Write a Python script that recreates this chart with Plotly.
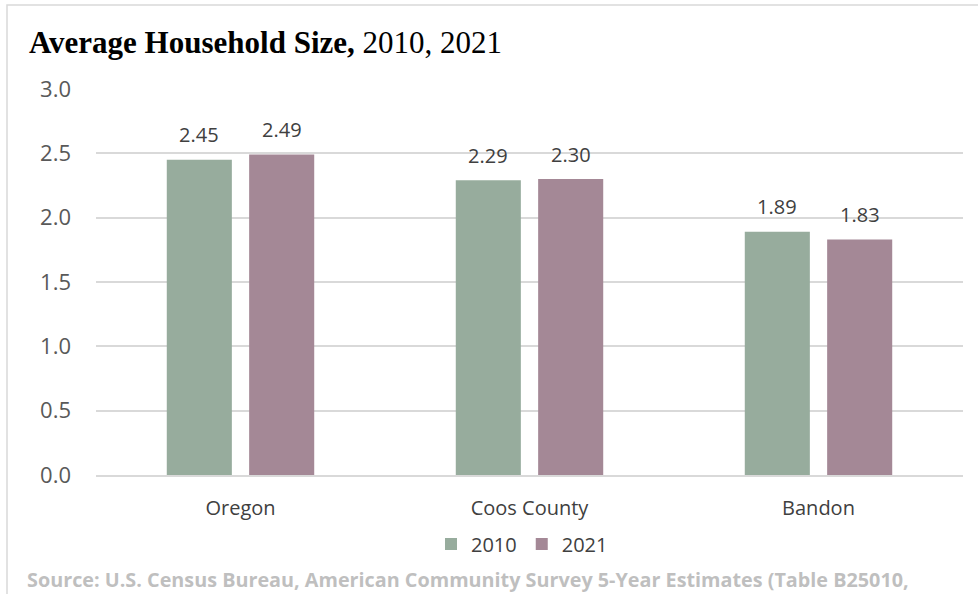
import plotly.graph_objects as go

categories = ["Oregon", "Coos County", "Bandon"]
values_2010 = [2.45, 2.29, 1.89]
values_2021 = [2.49, 2.30, 1.83]
series_names = ["2010", "2021"]
y_ticks = [0.0, 0.5, 1.0, 1.5, 2.0, 2.5, 3.0]
y_ticktext = ["0.0", "0.5", "1.0", "1.5", "2.0", "2.5", "3.0"]

W, H = 978, 594
L, R, T, B = 96, 15, 89, 119
pw, ph = W - L - R, H - T - B
BARGAP, GROUPGAP = 0.43, 0.21
colors = ["#97AC9D", "#A48896"]

def px_x(x):
    return (x - L) / pw

def px_y(y):
    return 1 - (y - T) / ph

fig = go.Figure()
for name, vals, col in zip(series_names, [values_2010, values_2021], colors):
    fig.add_trace(go.Bar(x=categories, y=vals, name=name, marker=dict(color=col, line=dict(width=0))))

# data labels above bars, positioned at each bar's slot centre
cat_w = pw / len(categories)
slot = cat_w * (1 - BARGAP) / 2
for i, vals in enumerate([values_2010, values_2021]):
    for c, v in zip(categories, vals):
        fig.add_annotation(
            x=c, y=v, xref="x", yref="y", showarrow=False,
            text=f"{v:.2f}", xshift=(i - 0.5) * slot, yshift=25,
            yanchor="middle", xanchor="center",
            font=dict(family="Open Sans", size=20, color="#404040"),
        )

fig.update_layout(
    width=W, height=H,
    margin=dict(l=L, r=R, t=T, b=B),
    paper_bgcolor="white", plot_bgcolor="white",
    barmode="group", bargap=BARGAP, bargroupgap=GROUPGAP,
    showlegend=True,
    legend=dict(orientation="h", x=px_x(522), xanchor="center", y=px_y(544), yanchor="middle",
                font=dict(family="Open Sans", size=20, color="#404040"),
                itemwidth=30, traceorder="normal"),
    xaxis=dict(showgrid=False, showline=True, linecolor="#D9D9D9", linewidth=1.5,
               ticks="", tickfont=dict(family="Open Sans", size=20, color="#404040"),
               ticklabelstandoff=14),
    yaxis=dict(range=[0, 3], tickvals=y_ticks, ticktext=y_ticktext,
               showgrid=True, gridcolor="#D9D9D9", gridwidth=1.5, zeroline=False,
               showline=False, ticks="",
               tickfont=dict(family="Open Sans", size=22, color="#595959"),
               ticklabelstandoff=24),
    font=dict(family="Open Sans"),
)

fig.add_annotation(
    xref="paper", yref="paper", x=px_x(27), y=px_y(42),
    xanchor="left", yanchor="middle", showarrow=False,
    text="<b>Average Household Size,</b> 2010, 2021",
    font=dict(family="Liberation Serif", size=31, color="#000000"),
)
fig.add_annotation(
    xref="paper", yref="paper", x=px_x(25), y=px_y(579),
    xanchor="left", yanchor="middle", showarrow=False,
    text="<b>Source: U.S. Census Bureau, American Community Survey 5-Year Estimates (Table B25010,</b>",
    font=dict(family="Open Sans", size=19.8, color="#BFBFBF"),
)
fig.add_shape(
    type="rect", xref="paper", yref="paper",
    x0=px_x(7), x1=px_x(990), y0=px_y(620), y1=px_y(5),
    line=dict(color="#D9D9D9", width=1.5), fillcolor="rgba(0,0,0,0)", layer="below",
)

fig.write_html("out.html", config={"displayModeBar": False},
               post_script="document.body.style.margin='0px';")
